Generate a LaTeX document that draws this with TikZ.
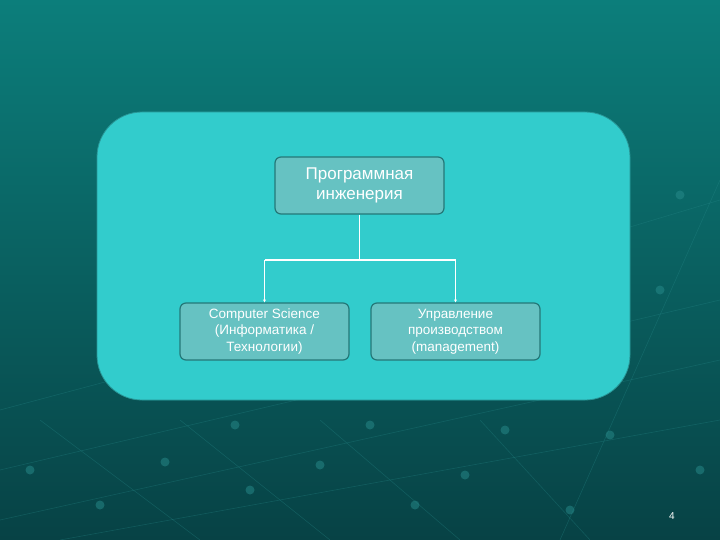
\documentclass[tikz,border=0pt]{standalone}
\usepackage{fontspec}
\setmainfont{Liberation Sans}
\usetikzlibrary{arrows.meta}
\definecolor{bgtop}{RGB}{12,126,123}
\definecolor{bgbot}{RGB}{7,66,69}
\definecolor{panel}{RGB}{50,204,204}
\definecolor{panelline}{RGB}{40,150,150}
\definecolor{boxfill}{RGB}{102,194,194}
\definecolor{boxline}{RGB}{36,120,120}
\definecolor{gridc}{RGB}{40,140,140}
\tikzset{
  card/.style={draw=boxline, line width=1.2pt, fill=boxfill, rounded corners=6pt,
    minimum width=169pt, minimum height=57pt, text=white, align=center, inner sep=2pt},
  link/.style={draw=white, line width=1pt},
  dot/.style={circle, fill=gridc, inner sep=0pt, minimum size=9pt, opacity=0.5}
}
\begin{document}
\begin{tikzpicture}[x=1pt,y=-1pt]
\useasboundingbox (0,0) rectangle (720,540);
\shade[top color=bgtop, bottom color=bgbot] (0,0) rectangle (720,540);
% faint decorative grid
\begin{scope}[draw=gridc, line width=0.6pt, opacity=0.3]
  \draw (0,470) -- (720,300);
  \draw (0,520) -- (720,360);
  \draw (60,540) -- (720,420);
  \draw (0,410) -- (300,330);
  \draw (40,420) -- (200,540);
  \draw (180,420) -- (330,540);
  \draw (320,420) -- (460,540);
  \draw (480,420) -- (590,540);
  \draw (720,180) -- (560,540);
  \draw (620,230) -- (720,200);
\end{scope}
\begin{scope}
  \node[dot] (g1) at (100,505) {};
  \node[dot] (g2) at (165,462) {};
  \node[dot] (g3) at (235,425) {};
  \node[dot] (g4) at (320,465) {};
  \node[dot] (g5) at (250,490) {};
  \node[dot] (g6) at (370,425) {};
  \node[dot] (g7) at (465,475) {};
  \node[dot] (g8) at (505,430) {};
  \node[dot] (g9) at (610,435) {};
  \node[dot] (g10) at (570,510) {};
  \node[dot] (g11) at (415,505) {};
  \node[dot] (g12) at (30,470) {};
  \node[dot] (g13) at (680,195) {};
  \node[dot] (g14) at (660,290) {};
  \node[dot] (g15) at (700,470) {};
\end{scope}
% main panel
\node[draw=panelline, line width=0.8pt, fill=panel, rounded corners=45pt,
  minimum width=533pt, minimum height=288pt] (panel) at (363.5,256) {};
% boxes
\node[card, font=\fontsize{17}{19.5}\selectfont] (top) at (359.5,185.5) {Программная\\инженерия};
\node[card, font=\fontsize{13.5}{16.5}\selectfont] (cs) at (264.5,331.5) {Computer Science\\(Информатика /\\Технологии)};
\node[card, font=\fontsize{13.5}{16.5}\selectfont] (mg) at (455.5,331.5) {Управление\\производством\\(management)};
% connectors
\coordinate (j) at (359.5,260);
\draw[link, line width=1.8pt] (top.south) -- (j);
\draw[link, line width=1.8pt] (cs.north |- j) -- (mg.north |- j);
\draw[link, -{Stealth[length=3pt,width=3pt]}] (cs.north |- j) -- (cs.north);
\draw[link, -{Stealth[length=3pt,width=3pt]}] (mg.north |- j) -- (mg.north);
% page number
\node[text=white, font=\fontsize{10}{12}\selectfont] (pn) at (672,516) {4};
\end{tikzpicture}
\end{document}
